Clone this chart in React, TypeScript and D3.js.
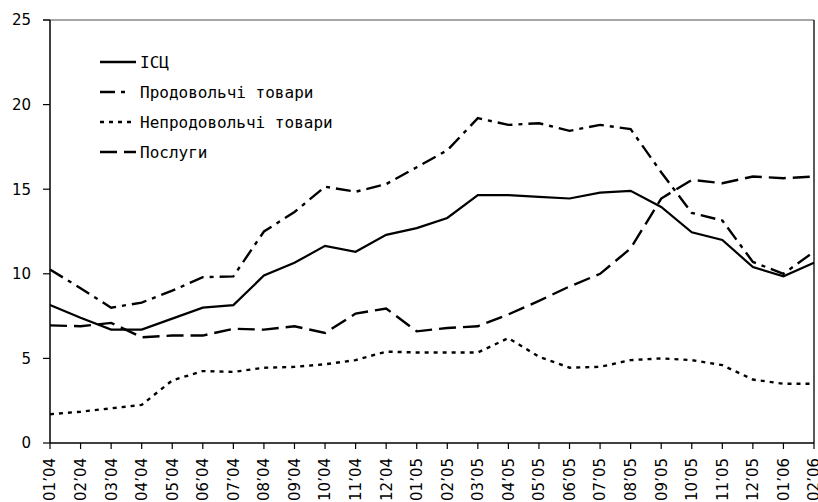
import * as d3 from "d3";
import React from "react";

const months = [
  "01’04", "02’04", "03’04", "04’04", "05’04", "06’04", "07’04", "08’04", "09’04",
  "10’04", "11’04", "12’04", "01’05", "02’05", "03’05", "04’05", "05’05", "06’05",
  "07’05", "08’05", "09’05", "10’05", "11’05", "12’05", "01’06", "02’06",
];

const cpi = [
  8.15, 7.4, 6.7, 6.7, 7.35, 8.0, 8.15, 9.9, 10.65, 11.65, 11.3, 12.3, 12.7,
  13.3, 14.65, 14.65, 14.55, 14.45, 14.8, 14.9, 13.95, 12.45, 12.0, 10.4, 9.85, 10.65,
];
const food = [
  10.25, 9.15, 8.0, 8.3, 9.0, 9.8, 9.85, 12.5, 13.65, 15.15, 14.85, 15.3, 16.3,
  17.3, 19.2, 18.8, 18.9, 18.45, 18.8, 18.55, 16.0, 13.6, 13.15, 10.7, 10.0, 11.3,
];
const nonFood = [
  1.7, 1.85, 2.05, 2.25, 3.7, 4.25, 4.2, 4.45, 4.5, 4.65, 4.9, 5.4, 5.35, 5.35,
  5.35, 6.2, 5.1, 4.45, 4.5, 4.9, 5.0, 4.9, 4.6, 3.75, 3.5, 3.5,
];
const services = [
  6.95, 6.9, 7.1, 6.25, 6.35, 6.35, 6.75, 6.7, 6.9, 6.5, 7.65, 7.95, 6.6, 6.8,
  6.9, 7.6, 8.4, 9.25, 10.0, 11.5, 14.45, 15.55, 15.35, 15.75, 15.65, 15.75,
];

const yTicks = [0, 5, 10, 15, 20, 25];

const series = [
  { name: "ІСЦ", values: cpi, dash: "none", sample: 136 },
  { name: "Продовольчі товари", values: food, dash: "15,6,4,6", sample: 127 },
  { name: "Непродовольчі товари", values: nonFood, dash: "4,5", sample: 135 },
  { name: "Послуги", values: services, dash: "17,7", sample: 136 },
];

export default function App() {
  const width = 818;
  const height = 502;
  const left = 50;
  const right = 814;
  const top = 20;
  const bottom = 443;

  const x = d3.scaleLinear().domain([0, months.length - 1]).range([left, right]);
  const y = d3.scaleLinear().domain([0, 25]).range([bottom, top]);

  const line = d3
    .line<number>()
    .x((_, i) => x(i))
    .y((d) => y(d));

  return (
    <svg
      width={width}
      height={height}
      style={{ position: "absolute", left: 0, top: 0, background: "#fff" }}
    >
      {/* frame */}
      <line x1={43} x2={right} y1={top} y2={top} stroke="#888" strokeWidth={1.5} />
      <line x1={right} x2={right} y1={top} y2={bottom} stroke="#222" strokeWidth={1.5} />

      {/* y axis */}
      <line x1={left} x2={left} y1={top} y2={bottom} stroke="#000" strokeWidth={1.5} />
      {yTicks.map((t) => (
        <g key={t}>
          <line x1={43} x2={left} y1={y(t)} y2={y(t)} stroke="#000" strokeWidth={1.2} />
          <text
            x={31}
            y={y(t)}
            dy="0.36em"
            textAnchor="end"
            fontFamily="DejaVu Sans"
            fontSize={15}
            fill="#000"
          >
            {t}
          </text>
        </g>
      ))}

      {/* x axis */}
      <line x1={left} x2={right} y1={bottom} y2={bottom} stroke="#000" strokeWidth={1.5} />
      {months.map((m, i) => (
        <g key={m}>
          <line x1={x(i)} x2={x(i)} y1={bottom} y2={bottom + 6} stroke="#000" strokeWidth={1.2} />
          <text
            transform={`translate(${x(i)},${bottom + 15}) rotate(-90)`}
            dy="0.36em"
            textAnchor="end"
            fontFamily="DejaVu Sans"
            fontSize={15}
            fill="#000"
          >
            {m}
          </text>
        </g>
      ))}

      {/* lines */}
      {series.map((s) => (
        <path
          key={s.name}
          d={line(s.values) ?? ""}
          fill="none"
          stroke="#000"
          strokeWidth={s.dash === "none" ? 2.2 : 2.4}
          strokeDasharray={s.dash === "none" ? undefined : s.dash}
        />
      ))}

      {/* legend */}
      {series.map((s, i) => {
        const ly = 62 + i * 30;
        return (
          <g key={s.name}>
            <line
              x1={100}
              x2={s.sample}
              y1={ly}
              y2={ly}
              stroke="#000"
              strokeWidth={2.4}
              strokeDasharray={s.dash === "none" ? undefined : s.dash}
            />
            <text
              x={140}
              y={ly}
              dy="0.36em"
              fontFamily="DejaVu Sans Mono"
              fontSize={16}
              fill="#000"
            >
              {s.name}
            </text>
          </g>
        );
      })}
    </svg>
  );
}
